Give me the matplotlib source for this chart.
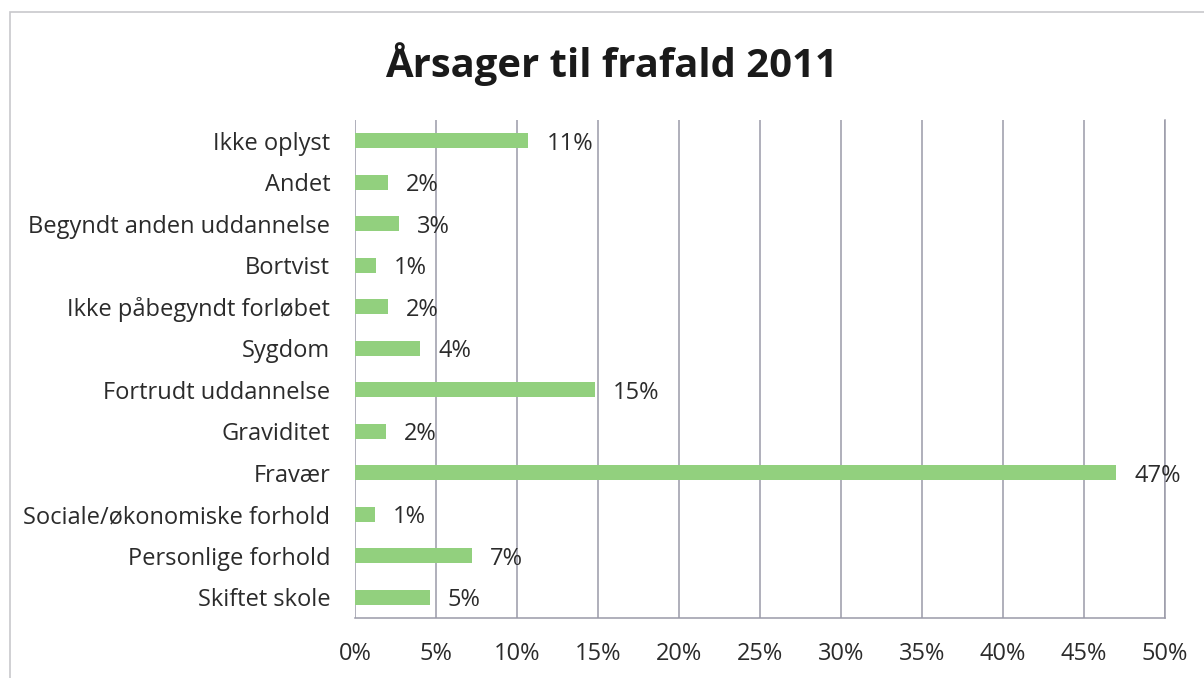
"""Recreate the 'Årsager til frafald 2011' horizontal bar chart."""

import matplotlib

matplotlib.use("Agg")
import matplotlib.pyplot as plt
from matplotlib.patches import Rectangle
from matplotlib.ticker import FuncFormatter, MultipleLocator

categories = [
    "Ikke oplyst",
    "Andet",
    "Begyndt anden uddannelse",
    "Bortvist",
    "Ikke påbegyndt forløbet",
    "Sygdom",
    "Fortrudt uddannelse",
    "Graviditet",
    "Fravær",
    "Sociale/økonomiske forhold",
    "Personlige forhold",
    "Skiftet skole",
]
values = [10.7, 2.0, 2.7, 1.3, 2.0, 4.0, 14.8, 1.9, 47.0, 1.2, 7.2, 4.6]
labels = ["11%", "2%", "3%", "1%", "2%", "4%", "15%", "2%", "47%", "1%", "7%", "5%"]

BAR_COLOR = "#92d07e"
GRID_COLOR = "#9a9aa8"
TEXT_COLOR = "#2b2b2b"
FS = 17

plt.rcParams["font.family"] = ["Open Sans", "DejaVu Sans"]

fig = plt.figure(figsize=(12.04, 6.78), dpi=100)
ax = fig.add_axes([0.295, 0.0885, 0.6726, 0.7345])

# outer chart frame from the scanned page
fig.patches.append(
    Rectangle((10 / 1204, -0.01), 1.2, 1 - 12 / 678 + 0.01, transform=fig.transFigure,
              fill=False, edgecolor="#c8c8cc", linewidth=1.2)
)

y = list(range(len(categories)))
ax.barh(y, values, height=0.36, color=BAR_COLOR, zorder=3)
for yi, v, lab in zip(y, values, labels):
    ax.annotate(lab, (v, yi), xytext=(13, -2), textcoords="offset points",
                va="center", ha="left", fontsize=FS, color=TEXT_COLOR, zorder=4)

ax.set_xlim(0, 50)
ax.set_ylim(len(categories) - 0.5, -0.5)
ax.set_yticks(y)
ax.set_yticklabels(categories, fontsize=FS, color=TEXT_COLOR)
ax.xaxis.set_major_locator(MultipleLocator(5))
ax.xaxis.set_major_formatter(FuncFormatter(lambda v, _: f"{v:.0f}%"))
ax.tick_params(axis="x", labelsize=FS, colors=TEXT_COLOR, length=0, pad=17)
ax.tick_params(axis="y", length=0, pad=18)
ax.grid(axis="x", color=GRID_COLOR, linewidth=1.1, zorder=0)
for spine in ax.spines.values():
    spine.set_color(GRID_COLOR)
    spine.set_linewidth(1.1)
ax.spines["top"].set_visible(False)
ax.spines["left"].set_visible(False)

fig.text(0.508, 0.905, "Årsager til frafald 2011", ha="center", va="center",
         fontsize=28.8, fontweight="bold", color="#1a1a1a")

fig.savefig("out.png", dpi=100)
